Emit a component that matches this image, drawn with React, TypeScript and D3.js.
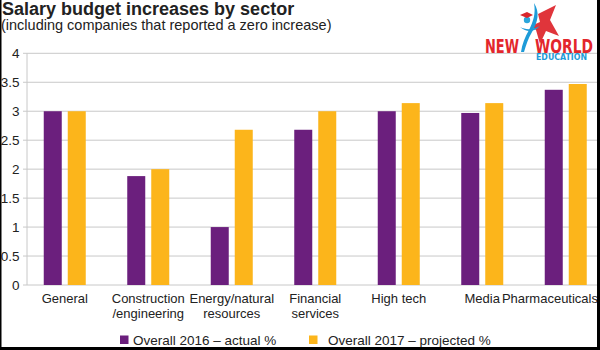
import { useEffect, useRef } from 'react';
import * as d3 from 'd3';

const categories = [
  ['General'],
  ['Construction', '/engineering'],
  ['Energy/natural', 'resources'],
  ['Financial', 'services'],
  ['High tech'],
  ['Media'],
  ['Pharmaceuticals'],
];
const actual2016 = [3.0, 1.88, 1.0, 2.68, 3.0, 2.97, 3.37];
const projected2017 = [3.0, 2.0, 2.68, 3.0, 3.14, 3.14, 3.47];
const seriesNames = ['Overall 2016 – actual %', 'Overall 2017 – projected %'];
const yTicks = [0, 0.5, 1, 1.5, 2, 2.5, 3, 3.5, 4];

const width = 600;
const height = 350;
const font = '"Liberation Sans", Arial, sans-serif';
const purple = '#6b1f7d';
const yellow = '#fcb51b';

export default function App() {
  const ref = useRef<SVGSVGElement>(null);

  useEffect(() => {
    const svg = d3.select(ref.current);
    if (!ref.current) return;
    svg.selectAll('*').remove();

    const x = d3
      .scaleBand()
      .domain(categories.map((_, i) => String(i)))
      .range([23, 607.5]);
    const y = d3.scaleLinear().domain([0, 4]).range([285, 53.3]);
    const barW = 18;
    const gap = 6;

    // title
    svg
      .append('text')
      .attr('x', 2)
      .attr('y', 15)
      .attr('font-family', font)
      .attr('font-weight', 'bold')
      .attr('font-size', 18)
      .attr('fill', '#222')
      .text('Salary budget increases by sector');
    svg
      .append('text')
      .attr('x', 1)
      .attr('y', 30)
      .attr('font-family', font)
      .attr('font-size', 14.5)
      .attr('fill', '#222')
      .text('(including companies that reported a zero increase)');

    // grid
    const grid = svg.append('g');
    grid
      .selectAll('line')
      .data(yTicks)
      .join('line')
      .attr('x1', 23)
      .attr('x2', 598)
      .attr('y1', (d) => y(d))
      .attr('y2', (d) => y(d))
      .attr('stroke', '#c8c8c8')
      .attr('stroke-width', 1);
    svg
      .append('line')
      .attr('x1', 27)
      .attr('x2', 27)
      .attr('y1', y(4))
      .attr('y2', y(0))
      .attr('stroke', '#c8c8c8');
    grid
      .selectAll('text')
      .data(yTicks)
      .join('text')
      .attr('x', 19.5)
      .attr('y', (d) => y(d))
      .attr('dy', '0.36em')
      .attr('text-anchor', 'end')
      .attr('font-family', font)
      .attr('font-size', 13.5)
      .attr('fill', '#222')
      .text((d) => String(d));

    // bars
    const groupW = barW * 2 + gap;
    const bars = svg.append('g');
    [actual2016, projected2017].forEach((vals, s) => {
      bars
        .append('g')
        .selectAll('rect')
        .data(vals)
        .join('rect')
        .attr('x', (_, i) => x(String(i))! + x.bandwidth() / 2 - groupW / 2 + s * (barW + gap))
        .attr('y', (d) => y(d))
        .attr('width', barW)
        .attr('height', (d) => y(0) - y(d))
        .attr('fill', s === 0 ? purple : yellow);
    });

    // category labels (last one nudged in so it stays inside the frame)
    const labels = svg.append('g');
    categories.forEach((lines, i) => {
      const cx = x(String(i))! + x.bandwidth() / 2;
      const t = labels
        .append('text')
        .attr('text-anchor', 'middle')
        .attr('font-family', font)
        .attr('font-size', 13)
        .attr('fill', '#222')
        .attr('x', cx)
        .attr('y', 303);
      lines.forEach((l, k) => {
        t.append('tspan')
          .attr('x', cx)
          .attr('dy', k === 0 ? 0 : 15)
          .text(l);
      });
      const box = (t.node() as SVGTextElement).getBBox();
      const over = box.x + box.width - 598.5;
      if (over > 0) {
        t.selectAll('tspan').attr('x', cx - over);
      }
    });

    // legend
    const legendX = [120, 309];
    seriesNames.forEach((name, s) => {
      svg
        .append('rect')
        .attr('x', legendX[s])
        .attr('y', 335.5)
        .attr('width', 8.5)
        .attr('height', 8.5)
        .attr('fill', s === 0 ? purple : yellow);
      svg
        .append('text')
        .attr('x', legendX[s] + (s === 0 ? 13 : 19))
        .attr('y', 345)
        .attr('font-family', font)
        .attr('font-size', 13.5)
        .attr('fill', '#222')
        .text(name);
    });

    // logo
    const logo = svg.append('g');
    logo
      .append('path')
      .attr('d', 'M538,14 L556,5 L550,20 L559,36 L546,31 L540,44 L536,30 L531,26 L540,22 Z')
      .attr('fill', '#e0353b');
    logo
      .append('path')
      .attr('d', 'M534,3 C540,12 538,22 532,32 C528,39 526,45 524,52 L521,52 C522,44 525,37 529,30 C533,22 536,14 534,3 Z')
      .attr('fill', '#1e9bd8');
    logo
      .append('path')
      .attr('d', 'M520,27 C526,30 532,30 540,26 C534,32 527,33 520,27 Z')
      .attr('fill', '#1e9bd8');
    logo.append('circle').attr('cx', 527).attr('cy', 20).attr('r', 3.2).attr('fill', '#2aa6dc');
    logo
      .append('path')
      .attr('d', 'M520,15 L527,12 L533,15 L527,18 Z')
      .attr('fill', '#d9262c');
    const logoFont = '"DejaVu Sans Condensed", "Liberation Sans Narrow", sans-serif';
    logo
      .append('text')
      .attr('x', 485)
      .attr('y', 52.5)
      .attr('font-family', logoFont)
      .attr('font-weight', 'bold')
      .attr('font-size', 19)
      .attr('fill', '#e3262c')
      .attr('textLength', 34)
      .attr('lengthAdjust', 'spacingAndGlyphs')
      .text('NEW');
    logo
      .append('text')
      .attr('x', 535)
      .attr('y', 52.5)
      .attr('font-family', logoFont)
      .attr('font-weight', 'bold')
      .attr('font-size', 19)
      .attr('fill', '#e3262c')
      .attr('textLength', 58)
      .attr('lengthAdjust', 'spacingAndGlyphs')
      .text('WORLD');
    logo
      .append('text')
      .attr('x', 536)
      .attr('y', 59.5)
      .attr('font-family', '"DejaVu Sans", sans-serif')
      .attr('font-weight', 'bold')
      .attr('font-size', 8)
      .attr('fill', '#1e9bd8')
      .attr('textLength', 51)
      .attr('lengthAdjust', 'spacingAndGlyphs')
      .text('EDUCATION');

    // frame
    svg.append('rect').attr('x', 0).attr('y', 0).attr('width', 1.5).attr('height', height).attr('fill', '#000');
    svg.append('rect').attr('x', 597).attr('y', 0).attr('width', 3).attr('height', height).attr('fill', '#000');
    svg.append('rect').attr('x', 0).attr('y', 347).attr('width', width).attr('height', 3).attr('fill', '#000');
  }, []);

  return (
    <svg
      ref={ref}
      width={width}
      height={height}
      style={{ position: 'absolute', left: 0, top: 0, background: '#fff' }}
    />
  );
}
